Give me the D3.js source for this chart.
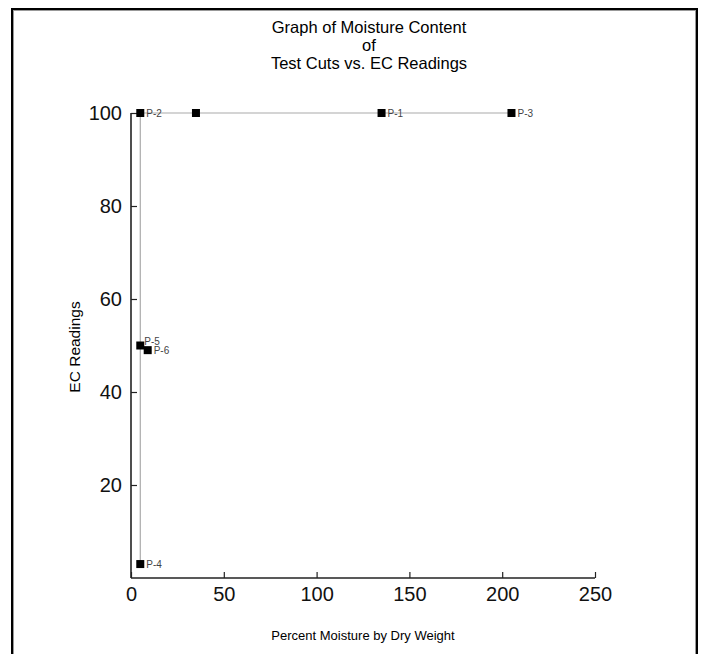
<!DOCTYPE html>
<html>
<head>
<meta charset="utf-8">
<script src="https://cdn.jsdelivr.net/npm/d3@7"></script>
<style>
  body { margin: 0; background: #fff; }
  text { font-family: "Liberation Sans", Arial, sans-serif; }
</style>
</head>
<body>
<div id="chart"></div>
<script>
// points
var pointNames = ["P-4", "P-5", "P-2", "", "P-1", "P-3", "P-6"];
var moisture   = [5, 5, 5, 35, 135, 205, 9];
var ecReadings = [3, 50, 100, 100, 100, 100, 49];
// the grey line runs through the first six in this order
var lineOrder = [0, 1, 2, 3, 4, 5];

var xTicks = [0, 50, 100, 150, 200, 250];
var yTicks = [20, 40, 60, 80, 100];
var titleLines = ["Graph of Moisture Content", "of", "Test Cuts vs. EC Readings"];

var width = 702, height = 654;
var svg = d3.select("#chart").append("svg")
  .attr("width", width)
  .attr("height", height);

// frame
svg.append("rect")
  .attr("x", 12).attr("y", 9)
  .attr("width", 685).attr("height", 660)
  .attr("fill", "none").attr("stroke", "#000").attr("stroke-width", 2);
svg.append("rect")
  .attr("x", 13.5).attr("y", 10.5)
  .attr("width", 682).attr("height", 660)
  .attr("fill", "none").attr("stroke", "#999").attr("stroke-width", 1);

var x = d3.scaleLinear().domain([0, 250]).range([131, 595]);
var y = d3.scaleLinear().domain([0, 100]).range([578, 113]);

// title
svg.append("g").selectAll("text")
  .data(titleLines)
  .enter().append("text")
  .attr("x", 369)
  .attr("y", (d, i) => 33 + i * 18)
  .attr("text-anchor", "middle")
  .attr("font-size", 16.5)
  .attr("transform", "translate(0,0)")
  .text(d => d);

// axes, ticks pointing into the plot
var xAxis = d3.axisTop(x).tickValues(xTicks).tickSize(6).tickFormat(d3.format("d"));
var gx = svg.append("g").attr("transform", "translate(0," + y(0) + ")").call(xAxis);
gx.select(".domain").attr("stroke", "#222").attr("stroke-width", 1.6).attr("d", "M" + x(0) + ",0H" + x(250));
gx.selectAll(".tick line").attr("stroke", "#222").attr("stroke-width", 1.2);
gx.selectAll(".tick text")
  .attr("y", 23).attr("dy", 0)
  .attr("font-size", 20).attr("fill", "#111")
  .attr("font-family", "Liberation Sans, Arial, sans-serif");

var yAxis = d3.axisRight(y).tickValues(yTicks).tickSize(6).tickFormat(d3.format("d"));
var gy = svg.append("g").attr("transform", "translate(" + x(0) + ",0)").call(yAxis);
gy.select(".domain").attr("stroke", "#222").attr("stroke-width", 1.6).attr("d", "M0," + y(0) + "V" + y(100));
gy.selectAll(".tick line").attr("stroke", "#222").attr("stroke-width", 1.2);
gy.selectAll(".tick text")
  .attr("x", -9).attr("text-anchor", "end")
  .attr("font-size", 20).attr("fill", "#111")
  .attr("font-family", "Liberation Sans, Arial, sans-serif");

// axis titles
svg.append("text")
  .attr("x", 363).attr("y", 640)
  .attr("text-anchor", "middle")
  .attr("font-size", 13)
  .text("Percent Moisture by Dry Weight");
svg.append("text")
  .attr("transform", "translate(80,347) rotate(-90)")
  .attr("text-anchor", "middle")
  .attr("font-size", 15.5)
  .text("EC Readings");

// connecting line
var line = d3.line()
  .x(i => x(moisture[i]))
  .y(i => y(ecReadings[i]));
svg.append("path")
  .attr("d", line(lineOrder))
  .attr("fill", "none")
  .attr("stroke", "#aaa")
  .attr("stroke-width", 1.2);

// markers
var idx = d3.range(pointNames.length);
svg.append("g").selectAll("rect")
  .data(idx)
  .enter().append("rect")
  .attr("x", i => x(moisture[i]) - 4)
  .attr("y", i => y(ecReadings[i]) - 4)
  .attr("width", 8).attr("height", 8)
  .attr("fill", "#000");

// point labels
svg.append("g").selectAll("text")
  .data(idx.filter(i => pointNames[i] !== ""))
  .enter().append("text")
  .attr("x", i => x(moisture[i]) + (pointNames[i] === "P-5" ? 4 : 6))
  .attr("y", i => y(ecReadings[i]) + (pointNames[i] === "P-5" ? -1 : 4))
  .attr("font-size", 10)
  .attr("fill", "#444")
  .text(i => pointNames[i]);
</script>
</body>
</html>
